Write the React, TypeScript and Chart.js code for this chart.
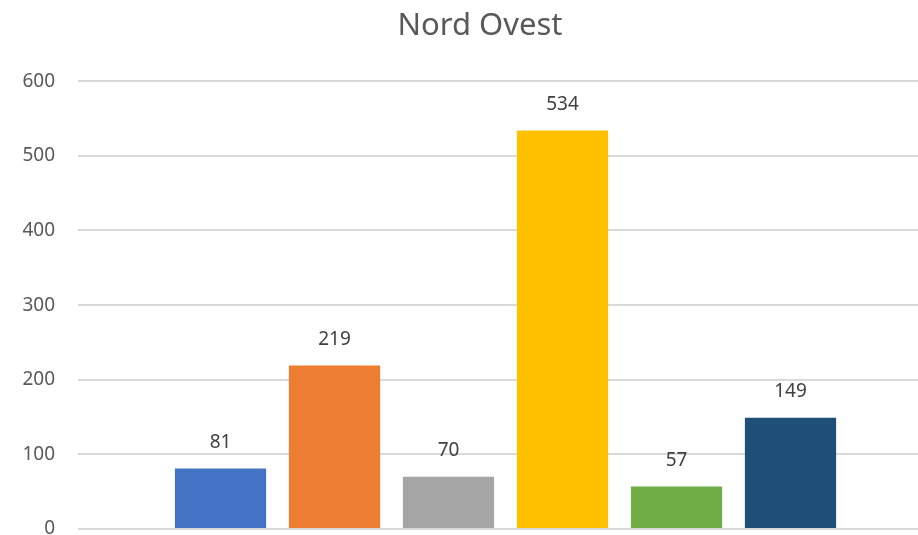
import React, { useEffect, useRef } from "react";
import { Chart, registerables } from "chart.js";

Chart.register(...registerables);

const categories = ["Nord Ovest"];
const seriesNames = ["Serie 1", "Serie 2", "Serie 3", "Serie 4", "Serie 5", "Serie 6"];
const seriesValues = [81, 219, 70, 534, 57, 149];
const seriesColors = ["#4472C4", "#ED7D31", "#A5A5A5", "#FFC000", "#70AD47", "#1F4E79"];
const yTicks = [0, 100, 200, 300, 400, 500, 600];

const FONT = "'Noto Sans', 'Open Sans', sans-serif";

const valueLabels = {
  id: "valueLabels",
  afterDatasetsDraw(chart: any) {
    const ctx = chart.ctx;
    ctx.save();
    ctx.font = `19px ${FONT}`;
    ctx.fillStyle = "#404040";
    ctx.textAlign = "center";
    ctx.textBaseline = "middle";
    chart.data.datasets.forEach((ds: any, i: number) => {
      const meta = chart.getDatasetMeta(i);
      meta.data.forEach((el: any, j: number) => {
        ctx.fillText(String(ds.data[j]), el.x, el.y - 26);
      });
    });
    ctx.restore();
  },
};

export default function App() {
  const ref = useRef<HTMLCanvasElement | null>(null);
  useEffect(() => {
    if (!ref.current) return;
    const chart = new Chart(ref.current, {
      type: "bar",
      data: {
        labels: categories,
        datasets: seriesNames.map((name, i) => ({
          label: name,
          data: [seriesValues[i]],
          backgroundColor: seriesColors[i],
          borderWidth: 0,
          categoryPercentage: 0.8,
          barPercentage: 0.8,
          yAxisID: "y",
        })),
      },
      options: {
        responsive: false,
        animation: false,
        layout: { padding: { left: 0, right: 0, top: 0, bottom: 31 } },
        plugins: {
          legend: { display: false },
          tooltip: { enabled: false },
          title: {
            display: true,
            text: "Nord Ovest",
            color: "#595959",
            font: { family: FONT, size: 31, weight: "normal", lineHeight: 1.2 },
            padding: { top: 8, bottom: 36 },
          },
        },
        scales: {
          x: { display: false },
          y: {
            min: 0,
            max: 600,
            afterBuildTicks: (scale: any) => {
              scale.ticks = yTicks.map((v) => ({ value: v }));
            },
            afterFit: (scale: any) => {
              scale.width = 78;
              scale.paddingTop = 0;
              scale.paddingBottom = 0;
            },
            border: { display: false },
            grid: { color: "#d9d9d9", lineWidth: 2, drawTicks: false },
            ticks: {
              color: "#595959",
              padding: 23,
              font: { family: FONT, size: 19 },
            },
          },
          y1: {
            position: "right",
            display: true,
            min: 0,
            max: 600,
            border: { display: false },
            grid: { display: false },
            ticks: { display: false },
            afterFit: (scale: any) => {
              scale.width = 27;
              scale.paddingTop = 0;
              scale.paddingBottom = 0;
            },
          },
        },
      } as any,
      plugins: [valueLabels],
    });
    return () => chart.destroy();
  }, []);
  return (
    <div style={{ position: "fixed", left: 0, top: 0, width: 960, height: 560, background: "#fff" }}>
      <canvas ref={ref} width={960} height={560} style={{ display: "block" }} />
    </div>
  );
}
